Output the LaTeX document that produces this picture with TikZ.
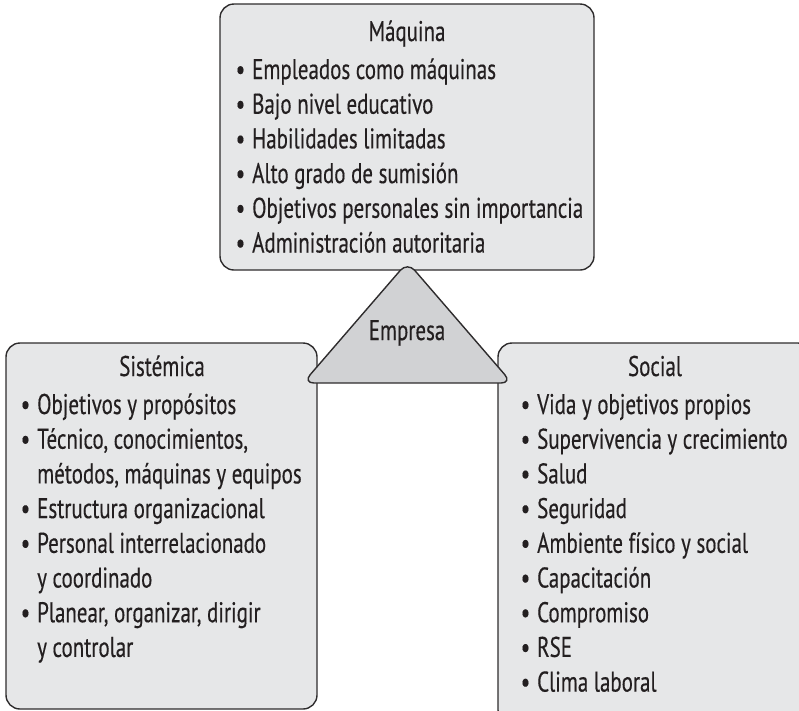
\documentclass[tikz,border=0pt]{standalone}
\usepackage{fontspec}
\setmainfont[FakeStretch=0.735,FakeBold=0.35]{PT Sans}
\definecolor{boxfill}{HTML}{E6E7E8}
\definecolor{trifill}{HTML}{D1D2D4}
\definecolor{edge}{HTML}{2E2C2D}
\definecolor{ink}{HTML}{231F20}
\newcommand\txtsize{\fontsize{28.5}{34.7}\selectfont}
\newcommand\itm{\par\noindent\llap{•\hspace{7pt}}}
\tikzset{
  panel/.style={draw=edge, fill=boxfill, line width=1.4pt, rounded corners=14pt},
  title/.style={anchor=base, inner sep=0pt, text=ink, font=\txtsize},
  list/.style={anchor=base west, inner sep=0pt, text=ink, font=\txtsize},
}
\begin{document}
\begin{tikzpicture}[x=1pt,y=-1pt]
\useasboundingbox (0,0) rectangle (799,710);
\begin{scope}
\clip (0,0) rectangle (799,710);
% the three panels
\draw[panel] (220,4) rectangle (594,270);
\draw[panel] (6,343) rectangle (317,709);
\draw[panel] (498,343) rectangle (812,724);
% central triangle
\draw[draw=edge, fill=trifill, line width=1.4pt, rounded corners=11pt]
  (407.5,262) -- (512,383) -- (303,383) -- cycle;
\end{scope}
\node[title] (empresa) at (407,340) {Empresa};

% Máquina
\node[title] (tmaq) at (407,41) {Máquina};
\node[list] (lmaq) at (252,79) {\parbox[t]{340pt}{\raggedright\txtsize
\itm Empleados como máquinas
\itm Bajo nivel educativo
\itm Habilidades limitadas
\itm Alto grado de sumisión
\itm Objetivos personales sin importancia
\itm Administración autoritaria}};

% Sistémica
\node[title] (tsis) at (162,376) {Sistémica};
\node[list] (lsis) at (37,414) {\parbox[t]{280pt}{\raggedright\txtsize
\itm Objetivos y propósitos
\itm Técnico, conocimientos,\\ métodos, máquinas y equipos
\itm Estructura organizacional
\itm Personal interrelacionado\\ y coordinado
\itm Planear, organizar, dirigir\\ y controlar}};

% Social
\node[title] (tsoc) at (655,376) {Social};
\node[list] (lsoc) at (537,414) {\parbox[t]{260pt}{\raggedright\txtsize
\itm Vida y objetivos propios
\itm Supervivencia y crecimiento
\itm Salud
\itm Seguridad
\itm Ambiente físico y social
\itm Capacitación
\itm Compromiso
\itm RSE
\itm Clima laboral}};
\end{tikzpicture}
\end{document}
